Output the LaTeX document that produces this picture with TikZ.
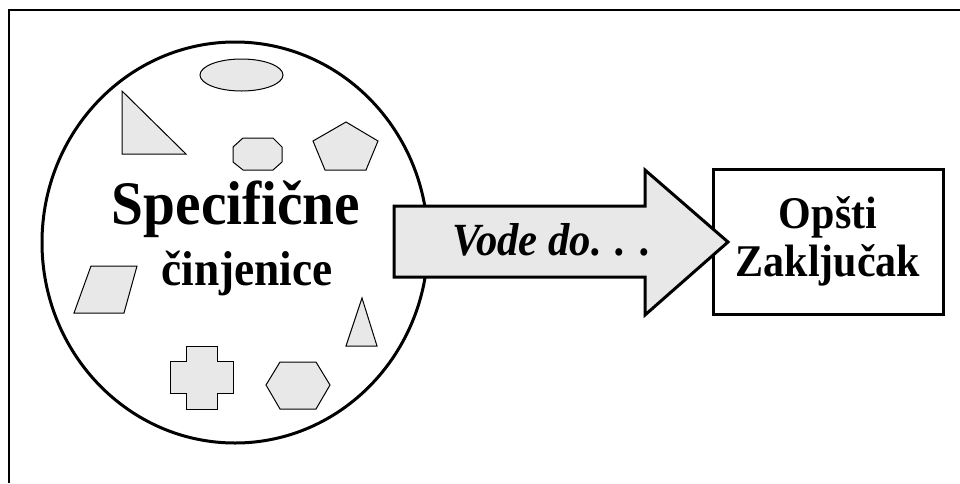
\documentclass[tikz,border=0pt]{standalone}
\usepackage{fontspec}
\setmainfont{Liberation Serif}
\definecolor{shapegray}{RGB}{232,232,232}
\tikzset{
  piece/.style={draw,fill=shapegray,line width=0.75pt,line join=miter},
  bold/.style={line width=2.25pt,line join=miter},
  tall/.style={yscale=1.08,transform shape}
}
\begin{document}
\begin{tikzpicture}[x=0.75pt,y=-0.75pt]
\useasboundingbox (0,0) rectangle (960,483);
\draw [line width=1.5pt] (9,483) -- (9,10) -- (960,10);

\draw [bold] (235,242.5) ellipse [x radius=193, y radius=200.5];

\draw [piece] (241.5,75) ellipse [x radius=41.5, y radius=16];
\draw [piece] (122,91) -- (122,154) -- (186,154) -- cycle;
\draw [piece] (243,138) -- (273,138) -- (282,147) -- (282,162) -- (273,170) -- (243,170) -- (233,162) -- (233,147) -- cycle;
\draw [piece] (346,122) -- (378,141) -- (366,170) -- (325,170) -- (313,141) -- cycle;
\draw [piece] (91,266) -- (137,266) -- (124,313) -- (74,313) -- cycle;
\draw [piece] (362,298) -- (377,346) -- (346,346) -- cycle;
\draw [piece] (186,346) -- (217,346) -- (217,361) -- (233,361) -- (233,393) -- (217,393) -- (217,409) -- (186,409) -- (186,393) -- (170,393) -- (170,361) -- (186,361) -- cycle;
\draw [piece] (266,385) -- (280,362) -- (316,362) -- (330,385) -- (316,409) -- (280,409) -- cycle;

\node (spec) [tall,anchor=base,font=\bfseries\fontsize{43}{48}\selectfont] at (236,224) {Specifične};
\node (facts) [tall,anchor=base,font=\bfseries\fontsize{34}{40}\selectfont] at (247,285) {činjenice};

\node (concl) [draw,tall,line width=2.25pt,minimum width=172.5pt,minimum height=100.7pt,align=center,
  font=\bfseries\fontsize{31.5}{33.3}\selectfont] at (828,241.5) {Opšti\\Zaključak};

\draw [bold,fill=shapegray] (394,206) -- (645,206) -- (645,170) -- (728,242) -- (645,315) -- (645,277) -- (394,277) -- cycle;
\node (lead) [tall,anchor=base,font=\bfseries\itshape\fontsize{32}{38}\selectfont] at (552,255) {Vode do. . .};
\end{tikzpicture}
\end{document}
